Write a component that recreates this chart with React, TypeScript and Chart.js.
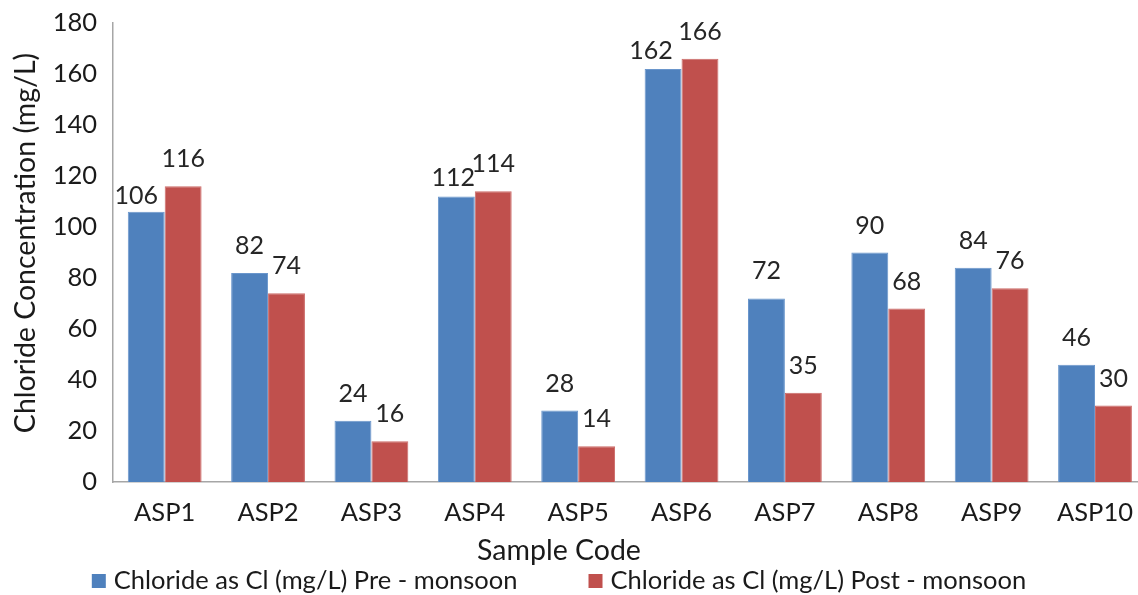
import React, { useEffect, useRef } from "react";
import { Chart, registerables } from "chart.js";

Chart.register(...registerables);

// Sample codes along the x axis
const sampleCodes = ["ASP1", "ASP2", "ASP3", "ASP4", "ASP5", "ASP6", "ASP7", "ASP8", "ASP9", "ASP10"];

// Chloride (mg/L) per sample
const preMonsoon = [106, 82, 24, 112, 28, 162, 72, 90, 84, 46];
const postMonsoon = [116, 74, 16, 114, 14, 166, 35, 68, 76, 30];

const seriesNames = [
  "Chloride as Cl (mg/L) Pre - monsoon",
  "Chloride as Cl (mg/L) Post - monsoon",
];

const yTitle = "Chloride Concentration (mg/L)";
const xTitle = "Sample Code";

// Hand-placed nudges [dx, dy] for value labels that would otherwise crowd a neighbour
const preLabelNudge: [number, number][] = [
  [-10, 11], [0, 0], [0, 0], [-3, 9], [0, 0], [-12, 9], [0, 0], [0, 0], [0, 0], [0, 0],
];
const postLabelNudge: [number, number][] = sampleCodes.map(() => [0, 0]);

const FONT = "Lato";
const TEXT = "#1a1a1a";
const BLUE = "#4F81BD";
const RED = "#C0504D";

const annotate = {
  id: "annotate",
  afterDatasetsDraw(chart: any) {
    const ctx = chart.ctx as CanvasRenderingContext2D;
    const nudges = [preLabelNudge, postLabelNudge];
    ctx.save();
    ctx.font = `25px ${FONT}`;
    ctx.fillStyle = "#262626";
    ctx.textAlign = "center";
    ctx.textBaseline = "alphabetic";
    chart.data.datasets.forEach((ds: any, di: number) => {
      const meta = chart.getDatasetMeta(di);
      meta.data.forEach((bar: any, i: number) => {
        const [dx, dy] = nudges[di][i];
        ctx.fillText(String(ds.data[i]), bar.x + dx, bar.y - 19 + dy);
      });
    });
    ctx.restore();
  },
  afterDraw(chart: any) {
    const ctx = chart.ctx as CanvasRenderingContext2D;
    ctx.save();
    ctx.fillStyle = TEXT;
    ctx.font = `28.5px ${FONT}`;
    ctx.textBaseline = "alphabetic";

    // y-axis title
    ctx.save();
    ctx.translate(35, 243);
    ctx.rotate(-Math.PI / 2);
    ctx.textAlign = "center";
    ctx.fillText(yTitle, 0, 0);
    ctx.restore();

    // x-axis title
    ctx.textAlign = "center";
    ctx.fillText(xTitle, 559, 560);

    // legend
    ctx.font = `25.5px ${FONT}`;
    const box = 14;
    const gap = 8;
    const between = 71;
    const widths = chart.data.datasets.map((d: any) => ctx.measureText(d.label).width);
    const total = widths.reduce((s: number, w: number) => s + box + gap + w, 0) + between;
    let x = 559 - total / 2;
    ctx.textAlign = "left";
    chart.data.datasets.forEach((d: any, i: number) => {
      ctx.fillStyle = d.backgroundColor;
      ctx.fillRect(x, 574, box, box);
      ctx.fillStyle = TEXT;
      ctx.fillText(d.label, x + box + gap, 589);
      x += box + gap + widths[i] + between;
    });
    ctx.restore();
  },
};

export default function App() {
  const ref = useRef<HTMLCanvasElement>(null);

  useEffect(() => {
    if (!ref.current) return;
    const chart = new Chart(ref.current, {
      type: "bar",
      data: {
        labels: sampleCodes,
        datasets: [
          { label: seriesNames[0], data: preMonsoon, backgroundColor: BLUE, borderColor: "#6A96CC", borderWidth: 1 },
          { label: seriesNames[1], data: postMonsoon, backgroundColor: RED, borderColor: "#CC6A68", borderWidth: 1 },
        ],
      },
      options: {
        responsive: false,
        animation: false,
        devicePixelRatio: 1,
        layout: { padding: { top: 23, left: 0, right: 0, bottom: 0 } },
        datasets: { bar: { categoryPercentage: 0.714, barPercentage: 1.0 } },
        plugins: { legend: { display: false }, tooltip: { enabled: false } },
        scales: {
          x: {
            grid: { display: false, drawTicks: false },
            border: { display: true, color: "#A6A6A6", width: 1.5 },
            ticks: { color: TEXT, font: { family: FONT, size: 25.5 }, padding: 15, maxRotation: 0, autoSkip: false },
            afterFit: (s: any) => { s.height = 113; },
          },
          y: {
            min: 0,
            max: 180,
            grid: { display: false, drawTicks: false },
            border: { display: true, color: "#A6A6A6", width: 1.5 },
            ticks: { stepSize: 20, color: TEXT, font: { family: FONT, size: 25.5 }, padding: 16 },
            afterFit: (s: any) => {
              s.width = 113;
              s.paddingTop = 0;
              s.paddingBottom = 0;
            },
          },
        },
      },
      plugins: [annotate],
    });
    return () => chart.destroy();
  }, []);

  return (
    <div style={{ position: "absolute", left: 0, top: 0, width: 1138, height: 595, overflow: "hidden", background: "#fff" }}>
      <canvas ref={ref} width={1148} height={595} style={{ display: "block" }} />
    </div>
  );
}
